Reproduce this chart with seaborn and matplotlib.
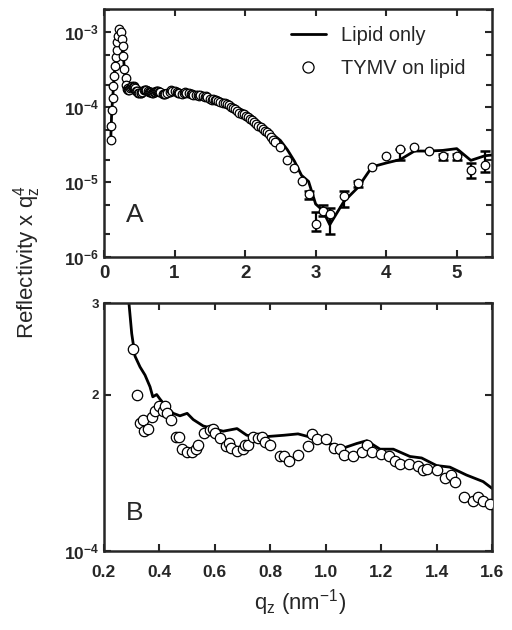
import numpy as np
import pandas as pd
import matplotlib
matplotlib.use('Agg')
import matplotlib.pyplot as plt
import seaborn as sns
from matplotlib.lines import Line2D
from matplotlib.ticker import FixedLocator, LogLocator, NullLocator, NullFormatter

# TYMV on lipid (open circles), q in nm^-1, R*q^4 in units of 1e-4
tymv_q = [0.095, 0.099, 0.109, 0.123, 0.132, 0.146, 0.156, 0.166, 0.180, 0.189,
          0.203, 0.217, 0.241, 0.255, 0.265, 0.274, 0.288,
          0.306, 0.318, 0.33, 0.34, 0.345, 0.36, 0.372, 0.384, 0.40, 0.412,
          0.421, 0.428, 0.44, 0.46, 0.47, 0.48, 0.50, 0.518, 0.531, 0.54,
          0.561, 0.582, 0.592, 0.60, 0.619, 0.64, 0.652, 0.66, 0.679, 0.70,
          0.71, 0.72, 0.739, 0.757, 0.771, 0.782, 0.80, 0.835, 0.85, 0.866,
          0.90, 0.935, 0.95, 0.967, 1.0, 1.03, 1.05, 1.066, 1.10, 1.132,
          1.15, 1.168, 1.20, 1.23, 1.25, 1.268, 1.30, 1.334, 1.35, 1.367,
          1.40, 1.432, 1.452, 1.467, 1.50, 1.533, 1.55, 1.568, 1.594,
          1.62, 1.65, 1.68, 1.71, 1.74, 1.77, 1.80, 1.83, 1.86, 1.89,
          1.92, 1.95, 1.98, 2.01, 2.04, 2.07, 2.10, 2.13, 2.16, 2.19,
          2.22, 2.25, 2.28, 2.31, 2.34, 2.37, 2.40, 2.43,
          2.5, 2.6, 2.7, 2.8, 2.9, 3.0, 3.1, 3.2, 3.4, 3.6, 3.8, 4.0,
          4.2, 4.4, 4.6, 4.8, 5.0, 5.2, 5.4]
tymv_r = [0.36, 0.57, 0.91, 1.33, 1.95, 2.6, 3.6, 4.7, 5.9, 7.4,
          9.0, 11.0, 10.0, 8.1, 6.6, 4.9, 3.2,
          2.45, 2.0, 1.76, 1.79, 1.70, 1.72, 1.81, 1.86, 1.90, 1.86,
          1.90, 1.84, 1.79, 1.66, 1.66, 1.57, 1.55, 1.55, 1.57, 1.60,
          1.69, 1.71, 1.72, 1.69, 1.65, 1.59, 1.61, 1.58, 1.56, 1.57,
          1.60, 1.60, 1.66, 1.65, 1.66, 1.62, 1.60, 1.52, 1.52, 1.49,
          1.53, 1.59, 1.68, 1.64, 1.64, 1.58, 1.57, 1.53, 1.52, 1.55,
          1.60, 1.55, 1.54, 1.52, 1.49, 1.47, 1.47, 1.46, 1.43, 1.44,
          1.43, 1.38, 1.40, 1.36, 1.27, 1.25, 1.27, 1.25, 1.23,
          1.21, 1.18, 1.15, 1.13, 1.10, 1.06, 1.02, 0.98, 0.94, 0.90,
          0.85, 0.82, 0.80, 0.77, 0.74, 0.70, 0.67, 0.64, 0.60, 0.57,
          0.54, 0.51, 0.48, 0.46, 0.44, 0.40, 0.37, 0.34,
          0.29, 0.20, 0.155, 0.105, 0.069, 0.028, 0.041, 0.038, 0.066, 0.098, 0.16, 0.22,
          0.275, 0.29, 0.26, 0.22, 0.22, 0.145, 0.17]

# Lipid only (solid line), same units
lipid_q = [0.095, 0.11, 0.125, 0.14, 0.155, 0.17, 0.185, 0.2, 0.215, 0.23,
           0.245, 0.26, 0.275, 0.29, 0.30, 0.312, 0.33, 0.348, 0.366, 0.376,
           0.39, 0.402, 0.426, 0.45, 0.474, 0.50, 0.522, 0.558, 0.594, 0.63,
           0.655, 0.68, 0.715, 0.75, 0.787, 0.85, 0.90, 0.937, 0.99, 1.027,
           1.067, 1.112, 1.148, 1.196, 1.244, 1.304, 1.346, 1.40, 1.448, 1.508,
           1.568, 1.60, 1.7, 1.8, 1.9, 2.0, 2.1, 2.2, 2.3, 2.4,
           2.5, 2.6, 2.7, 2.8, 2.9, 3.0, 3.1, 3.2, 3.4, 3.6,
           3.8, 4.0, 4.2, 4.4, 4.6, 4.8, 5.0, 5.2, 5.4, 5.5]
lipid_r = [0.36, 0.9, 1.4, 2.3, 3.5, 4.9, 6.8, 8.8, 10.8, 10.5,
           9.5, 7.5, 5.0, 3.0, 2.62, 2.37, 2.26, 2.18, 2.07, 1.98,
           2.0, 1.96, 1.89, 1.84, 1.82, 1.84, 1.79, 1.74, 1.72, 1.70,
           1.71, 1.72, 1.67, 1.66, 1.66, 1.67, 1.68, 1.66, 1.62, 1.60,
           1.58, 1.61, 1.63, 1.57, 1.57, 1.52, 1.51, 1.46, 1.45, 1.40,
           1.36, 1.32, 1.22, 1.10, 0.98, 0.88, 0.76, 0.63, 0.52, 0.43,
           0.36, 0.27, 0.19, 0.123, 0.102, 0.051, 0.042, 0.027, 0.055, 0.085,
           0.16, 0.18, 0.20, 0.26, 0.26, 0.265, 0.28, 0.195, 0.225, 0.23]

# error bars (lower / upper ends), same units
err_q = [2.9, 3.0, 3.1, 3.2, 3.4, 3.6, 4.2, 4.8, 5.0, 5.2, 5.4]
err_lo = [0.059, 0.022, 0.035, 0.020, 0.047, 0.085, 0.20, 0.20, 0.20, 0.115, 0.135]
err_hi = [0.075, 0.040, 0.050, 0.045, 0.076, 0.105, 0.28, 0.235, 0.235, 0.18, 0.26]

scale = 1e-4
tymv = pd.DataFrame({'q': tymv_q, 'r': np.array(tymv_r) * scale})
lipid = pd.DataFrame({'q': lipid_q, 'r': np.array(lipid_r) * scale})

sns.set_style('ticks')
plt.rcParams['font.family'] = ['Liberation Sans', 'DejaVu Sans']
plt.rcParams['mathtext.fontset'] = 'custom'
plt.rcParams['mathtext.rm'] = 'Liberation Sans'
plt.rcParams['mathtext.it'] = 'Liberation Sans'
plt.rcParams['mathtext.bf'] = 'Liberation Sans:bold'

fig = plt.figure(figsize=(5.12, 6.3), dpi=100)
axA = fig.add_axes([104 / 512, 1 - 257 / 630, 388 / 512, 248 / 630])
axB = fig.add_axes([104 / 512, 1 - 551 / 630, 388 / 512, 248 / 630])

for ax, size in ((axA, 38), (axB, 56)):
    sns.lineplot(data=lipid, x='q', y='r', ax=ax, color='black', linewidth=2,
                 sort=False, estimator=None, zorder=2)
    sns.scatterplot(data=tymv, x='q', y='r', ax=ax, marker='o', s=size,
                    facecolor='white', edgecolor='black', linewidth=0.9, zorder=3)
    ax.set_yscale('log')
    ax.set_xlabel('')
    ax.set_ylabel('')
    for s in ax.spines.values():
        s.set_linewidth(1.8)
    ax.tick_params(which='both', direction='in', top=True, right=True, width=1.5)
    ax.tick_params(which='major', length=5)
    ax.tick_params(which='minor', length=4)

# error bars in panel A
lo = np.array(err_lo) * scale
hi = np.array(err_hi) * scale
mid = np.sqrt(lo * hi)
axA.errorbar(err_q, mid, yerr=[mid - lo, hi - mid], fmt='none', ecolor='black',
             elinewidth=1.6, capsize=3.5, capthick=1.8, zorder=2.5)

# panel A axes
axA.set_xlim(0, 5.5)
axA.set_ylim(1e-6, 2.05e-3)
axA.xaxis.set_major_locator(FixedLocator([0, 1, 2, 3, 4, 5]))
axA.set_xticklabels(['0', '1', '2', '3', '4', '5'], fontsize=13.5, fontweight='bold')
axA.tick_params(axis='x', which='major', pad=6)
axA.yaxis.set_major_locator(FixedLocator([1e-6, 1e-5, 1e-4, 1e-3]))
axA.set_yticklabels([r'$\mathbf{10^{-6}}$', r'$\mathbf{10^{-5}}$',
                     r'$\mathbf{10^{-4}}$', r'$\mathbf{10^{-3}}$'], fontsize=12.5)
axA.yaxis.set_minor_locator(LogLocator(base=10, subs=[2, 5]))
axA.yaxis.set_minor_formatter(NullFormatter())
axA.text(0.08, 0.17, 'A', transform=axA.transAxes, fontsize=19, ha='center', va='center')

handles = [Line2D([], [], color='black', lw=2),
           Line2D([], [], marker='o', ls='none', markersize=8, markerfacecolor='white',
                  markeredgecolor='black', markeredgewidth=0.9)]
axA.legend(handles, ['Lipid only', 'TYMV on lipid'], frameon=False, fontsize=14.4,
           loc='upper left', bbox_to_anchor=(0.455, 0.97), borderpad=0,
           handlelength=1.75, handletextpad=0.75, labelspacing=0.7)

# panel B axes
axB.set_xlim(0.2, 1.6)
axB.set_ylim(1e-4, 3e-4)
axB.xaxis.set_major_locator(FixedLocator([0.2, 0.4, 0.6, 0.8, 1.0, 1.2, 1.4, 1.6]))
axB.set_xticklabels(['0.2', '0.4', '0.6', '0.8', '1.0', '1.2', '1.4', '1.6'],
                    fontsize=12.5, fontweight='bold')
axB.tick_params(axis='x', which='major', pad=10)
axB.yaxis.set_major_locator(FixedLocator([1e-4, 2e-4, 3e-4]))
axB.yaxis.set_minor_locator(NullLocator())
axB.set_yticklabels([r'$\mathbf{10^{-4}}$', '2', '3'], fontweight='bold')
yl = axB.get_yticklabels()
yl[0].set_fontsize(12.5)
yl[1].set_fontsize(9.5)
yl[2].set_fontsize(9.5)
axB.text(0.08, 0.155, 'B', transform=axB.transAxes, fontsize=19, ha='center', va='center')

fig.text(27 / 512, 1 - 262 / 630, r'Reflectivity x q$_\mathregular{z}^\mathregular{4}$',
         rotation=90, ha='center', va='center', fontsize=16)
fig.text(300 / 512, 1 - 603 / 630, r'q$_\mathregular{z}$ (nm$^{\mathregular{-1}}$)',
         ha='center', va='center', fontsize=16)

fig.savefig('out.png', dpi=100)
